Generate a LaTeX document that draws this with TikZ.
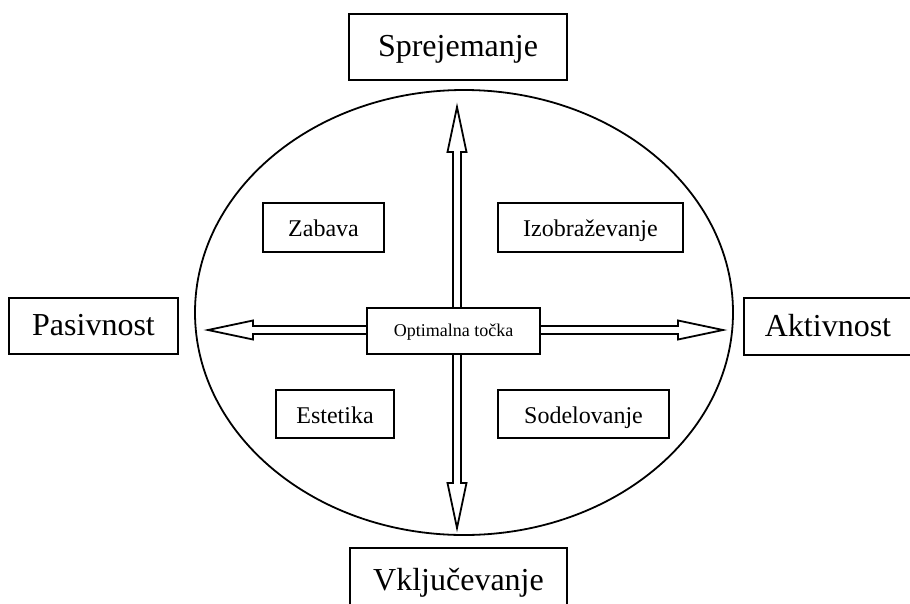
\documentclass[tikz,border=0pt]{standalone}
\usepackage{fontspec}
\setmainfont{Liberation Serif}
\usepackage{tikz}
\usetikzlibrary{calc}

\newcommand{\hollowarrow}[2]{%
  \coordinate (hb) at ($(#2)!45pt!(#1)$);
  \draw[hollow] ($(#1)!4pt!90:(#2)$) -- ($(hb)!4pt!90:(#2)$)
    -- ($(hb)!9.5pt!90:(#2)$) -- (#2) -- ($(hb)!9.5pt!-90:(#2)$)
    -- ($(hb)!4pt!-90:(#2)$) -- ($(#1)!4pt!-90:(#2)$);}

\begin{document}
\begin{tikzpicture}[x=1pt, y=-1pt, line width=1.8pt,
    bigbox/.style={rectangle, draw, inner sep=0pt,
        font=\fontsize{32}{38}\selectfont, text height=22pt, text depth=3pt},
    midbox/.style={rectangle, draw, inner sep=0pt,
        font=\fontsize{24}{29}\selectfont, text height=18pt, text depth=0pt},
    optbox/.style={rectangle, draw, fill=white, inner sep=0pt,
        font=\fontsize{18}{22}\selectfont, text height=13pt, text depth=3pt},
    hollow/.style={draw, line width=1.8pt, line join=miter}
]
\useasboundingbox (0,0) rectangle (910,603);
\draw (464,312.5) ellipse [x radius=269pt, y radius=222.5pt];

\node[bigbox, minimum width=218pt, minimum height=66pt] (spre) at (458,47) {Sprejemanje};
\node[bigbox, minimum width=169pt, minimum height=56pt] (pas) at (93.5,326) {Pasivnost};
\node[bigbox, minimum width=168pt, minimum height=57pt] (akt) at (828,326.5) {Aktivnost};
\node[bigbox, minimum width=217pt, minimum height=66pt] (vkl) at (458.5,581) {Vključevanje};

\node[midbox, minimum width=121pt, minimum height=49pt] (zab) at (323.5,227.5) {Zabava};
\node[midbox, minimum width=185pt, minimum height=49pt] (izo) at (590.5,227.5) {Izobraževanje};
\node[midbox, minimum width=118pt, minimum height=48pt] (est) at (335,414) {Estetika};
\node[midbox, minimum width=171pt, minimum height=48pt] (sod) at (583.5,414) {Sodelovanje};

\node[optbox, minimum width=173pt, minimum height=46pt] (opt) at (453.5,331) {Optimalna točka};

\coordinate (tipN) at (457,107);
\coordinate (tipS) at (457,528);
\coordinate (tipW) at (208,330);
\coordinate (tipE) at (723,330);
\coordinate (sN) at (opt.north -| tipN);
\coordinate (sS) at (opt.south -| tipS);
\coordinate (sW) at (opt.west |- tipW);
\coordinate (sE) at (opt.east |- tipE);

\hollowarrow{sN}{tipN}
\hollowarrow{sS}{tipS}
\hollowarrow{sW}{tipW}
\hollowarrow{sE}{tipE}
\end{tikzpicture}
\end{document}
